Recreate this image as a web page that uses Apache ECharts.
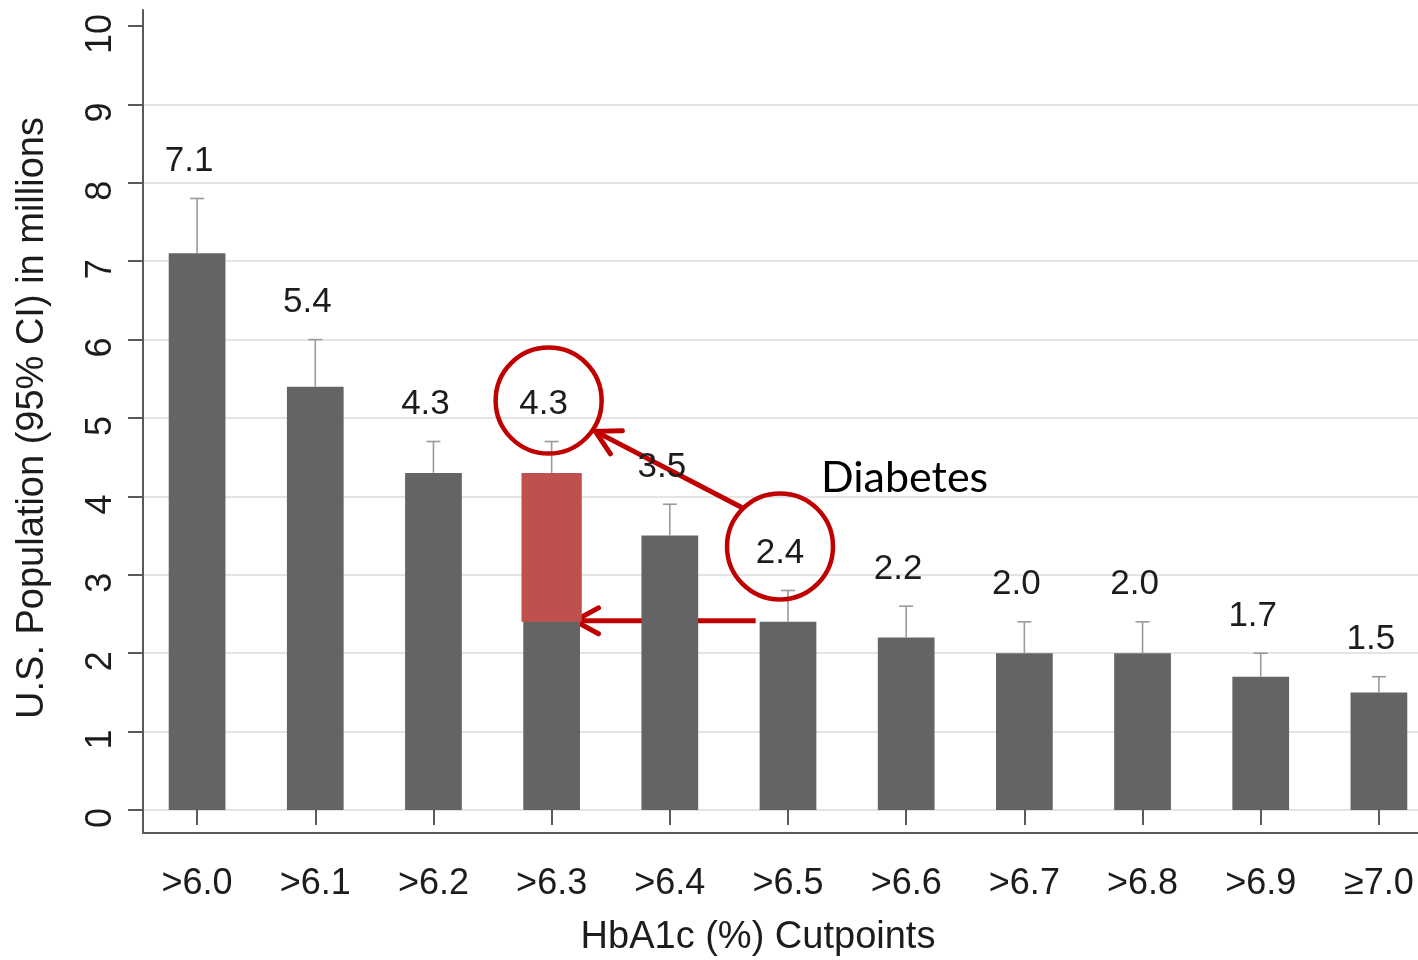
<!DOCTYPE html>
<html>
<head>
<meta charset="utf-8">
<script src="https://cdn.jsdelivr.net/npm/echarts@6/dist/echarts.min.js"></script>
<style>
  html, body { margin: 0; padding: 0; background: #ffffff; }
  #chart { width: 1418px; height: 960px; }
</style>
</head>
<body>
<div id="chart"></div>
<script>
// HbA1c cutpoints and estimated U.S. population (millions) with upper 95% CI
const categories = ['>6.0', '>6.1', '>6.2', '>6.3', '>6.4', '>6.5', '>6.6', '>6.7', '>6.8', '>6.9', '≥7.0'];
const estimates = [7.1, 5.4, 4.3, 4.3, 3.5, 2.4, 2.2, 2.0, 2.0, 1.7, 1.5];
const upperCI = [7.8, 6.0, 4.7, 4.7, 3.9, 2.8, 2.6, 2.4, 2.4, 2.0, 1.7];
const yTicks = [0, 1, 2, 3, 4, 5, 6, 7, 8, 9, 10];

// Highlighted cutpoint and the diabetes threshold it is compared with
const highlightCategory = '>6.3';
const diabetesCategory = '>6.5';
const annotationLabel = 'Diabetes';

const yTitle = 'U.S. Population (95% CI) in millions';
const xTitle = 'HbA1c (%) Cutpoints';

const TEXT = '#1c1c1c';
const AXIS = '#5a5a5a';
const BAR = '#646464';
const HILITE = '#c0504d';
const MARK = '#c00000';
const FONT = '"Liberation Sans", Arial, sans-serif';
const LABEL_LIFT = 37;   // px between CI cap and value label centre
const LABEL_SHIFT = -8;  // px horizontal nudge of value labels

const hi = categories.indexOf(highlightCategory);
const dia = categories.indexOf(diabetesCategory);

const chart = echarts.init(document.getElementById('chart'), null, { renderer: 'canvas' });

// grid lines on every tick except the top one
const gridColors = yTicks.map((t, k) => (k === yTicks.length - 1 ? 'rgba(0,0,0,0)' : '#e4e4e4'));

const option = {
  backgroundColor: '#ffffff',
  animation: false,
  grid: [
    { left: 138, width: 1300, top: 26, bottom: 150, outerBoundsMode: 'none', containLabel: false },
    { left: 143, right: 0, top: 10, bottom: 127, outerBoundsMode: 'none', containLabel: false }
  ],
  xAxis: [
    {
      type: 'category', gridIndex: 0, data: categories, offset: 23,
      axisLine: { show: false },
      axisTick: { show: true, alignWithLabel: true, length: 15, lineStyle: { color: AXIS, width: 2 } },
      axisLabel: { fontSize: 36, color: TEXT, fontFamily: FONT, margin: 33, interval: 0 },
      splitLine: { show: false }
    },
    {
      type: 'value', gridIndex: 1, min: 0, max: 1,
      axisLine: { show: true, lineStyle: { color: AXIS, width: 2 } },
      axisTick: { show: false }, axisLabel: { show: false }, splitLine: { show: false }
    }
  ],
  yAxis: [
    {
      type: 'value', gridIndex: 0, min: yTicks[0], max: yTicks[yTicks.length - 1], interval: 1, offset: -5,
      axisLine: { show: false },
      axisTick: { show: true, length: 15, lineStyle: { color: AXIS, width: 2 } },
      axisLabel: {
        rotate: 90, fontSize: 36, color: TEXT, fontFamily: FONT, margin: 24,
        padding: [0, 16, 0, 0]
      },
      splitLine: { show: true, lineStyle: { color: gridColors, width: 2 } },
      name: yTitle, nameLocation: 'middle', nameRotate: 90, nameGap: 91,
      nameTextStyle: { fontSize: 38, color: TEXT, fontFamily: FONT }
    },
    {
      type: 'value', gridIndex: 1, min: 0, max: 1,
      axisLine: { show: true, lineStyle: { color: AXIS, width: 2 } },
      axisTick: { show: false }, axisLabel: { show: false }, splitLine: { show: false }
    }
  ],
  series: [
    {
      type: 'bar', xAxisIndex: 0, yAxisIndex: 0,
      data: estimates, barWidth: '48%',
      itemStyle: { color: BAR },
      z: 2
    },
    {
      // portion of the highlighted bar above the diabetes count
      type: 'custom', xAxisIndex: 0, yAxisIndex: 0, z: 3,
      data: [[hi, estimates[dia], estimates[hi]]],
      renderItem: function (params, api) {
        const i = api.value(0);
        const lo = api.coord([i, api.value(1)]);
        const up = api.coord([i, api.value(2)]);
        const w = api.size([1, 0])[0] * 0.51;
        return {
          type: 'rect',
          shape: { x: lo[0] - w / 2, y: up[1], width: w, height: lo[1] - up[1] },
          style: { fill: HILITE }
        };
      }
    },
    {
      // upper confidence whiskers and value labels
      type: 'custom', xAxisIndex: 0, yAxisIndex: 0, z: 4,
      data: categories.map((c, i) => [i, estimates[i], upperCI[i]]),
      renderItem: function (params, api) {
        const i = api.value(0);
        const est = api.value(1);
        const top = api.coord([i, api.value(2)]);
        const base = api.coord([i, est]);
        const cap = 7;
        return {
          type: 'group',
          children: [
            { type: 'line', shape: { x1: base[0], y1: base[1], x2: top[0], y2: top[1] },
              style: { stroke: '#9a9a9a', lineWidth: 1.6 } },
            { type: 'line', shape: { x1: top[0] - cap, y1: top[1], x2: top[0] + cap, y2: top[1] },
              style: { stroke: '#9a9a9a', lineWidth: 1.6 } },
            { type: 'text', x: top[0] + LABEL_SHIFT, y: top[1] - LABEL_LIFT,
              style: { text: est.toFixed(1), fontSize: 35, fontFamily: FONT, fill: TEXT,
                       align: 'center', verticalAlign: 'middle' } }
          ]
        };
      }
    }
  ]
};

chart.setOption(option);

// annotation: circles round the two labels, arrows, and the "Diabetes" note
function arrow(x1, y1, x2, y2, len, ang) {
  const a = Math.atan2(y1 - y2, x1 - x2);
  const p1 = [x2 + len * Math.cos(a + ang), y2 + len * Math.sin(a + ang)];
  const p2 = [x2 + len * Math.cos(a - ang), y2 + len * Math.sin(a - ang)];
  return [
    { type: 'line', shape: { x1: x1, y1: y1, x2: x2, y2: y2 },
      style: { stroke: MARK, lineWidth: 5, lineCap: 'butt' } },
    { type: 'polyline', shape: { points: [p1, [x2, y2], p2] },
      style: { stroke: MARK, lineWidth: 5, fill: null, lineJoin: 'miter', lineCap: 'round' } }
  ];
}

const toPx = (i, v) => chart.convertToPixel({ xAxisIndex: 0, yAxisIndex: 0 }, [categories[i], v]);
const band = Math.abs(toPx(1, 0)[0] - toPx(0, 0)[0]);
const R = 53;

const hiCap = toPx(hi, upperCI[hi]);
const diaCap = toPx(dia, upperCI[dia]);
const c1 = [hiCap[0] - 3, hiCap[1] - 41];
const c2 = [diaCap[0] - 8, diaCap[1] - 44];

const a1 = Math.atan2(31, 47);
const a2 = Math.atan2(-41, -39.5);
const s1 = [c2[0] + R * Math.cos(a2), c2[1] + R * Math.sin(a2)];
const e1 = [c1[0] + (R + 3) * Math.cos(a1), c1[1] + (R + 3) * Math.sin(a1)];

const lowY = toPx(hi, estimates[dia])[1];
const diaLeft = toPx(dia, 0)[0] - band * 0.24;
const hiRight = toPx(hi, 0)[0] + band * 0.255;

chart.setOption({
  graphic: [
    { type: 'circle', shape: { cx: c1[0], cy: c1[1], r: R }, style: { stroke: MARK, lineWidth: 4.5, fill: null }, z: 100 },
    { type: 'circle', shape: { cx: c2[0], cy: c2[1], r: R }, style: { stroke: MARK, lineWidth: 4.5, fill: null }, z: 100 },
    { type: 'group', z: 100, children: arrow(s1[0], s1[1], e1[0], e1[1], 27, 0.5) },
    { type: 'group', z: 100, children: arrow(diaLeft - 4, lowY - 1, hiRight - 7, lowY - 1, 27, 0.5) },
    { type: 'text', z: 100, x: c2[0] + 41, y: c2[1] - 47,
      style: { text: annotationLabel, font: '43px Lato, "Open Sans", sans-serif', fill: '#000000',
               textAlign: 'left', textVerticalAlign: 'bottom' } },
    { type: 'text', z: 100, x: 758, y: 938,
      style: { text: xTitle, font: '38px ' + FONT, fill: TEXT, textAlign: 'center', textVerticalAlign: 'middle' } }
  ]
});
</script>
</body>
</html>
